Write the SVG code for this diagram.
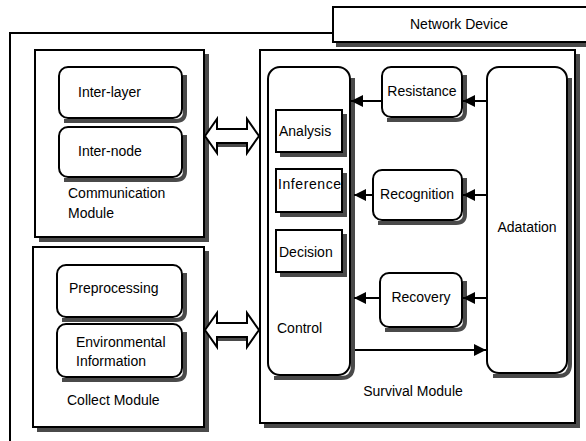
<svg xmlns="http://www.w3.org/2000/svg" width="586" height="441" viewBox="0 0 586 441">
<style>
.box{fill:#fff;stroke:#000;stroke-width:2}
.sh{fill:none;stroke:#4a4a4a;stroke-width:4}
.t{font-family:"Liberation Sans",Arial,sans-serif;font-size:14px;fill:#000}
.c{text-anchor:middle}
.ln{stroke:#000;stroke-width:2;fill:none}
</style>
<defs>
<marker id="ah" viewBox="0 0 10 10" refX="10" refY="5" markerWidth="6" markerHeight="6" orient="auto" markerUnits="strokeWidth">
<path d="M0,0 L10,5 L0,10 z" fill="#000"/>
</marker>
<path id="dbl" d="M0,0 L12,-17 L12,-7 L42,-7 L42,-17 L54,0 L42,17 L42,7 L12,7 L12,17 z"/>
</defs>
<rect width="586" height="441" fill="#fff"/>
<g id="outer">
<path class="ln" d="M10,441 L10,33 L334,33"/>
</g>
<g id="network-device">
<rect class="box" x="333" y="7" width="260" height="35"/>
<polyline class="sh" points="336,45 586,45"/>
<text class="t c" x="459" y="29">Network Device</text>
</g>
<g id="communication-module">
<rect class="box" x="35" y="50" width="169" height="187"/>
<polyline class="sh" points="207,54 207,240 39,240"/>
<text class="t" x="68" y="198">Communication</text>
<text class="t" x="68" y="218">Module</text>
</g>
<g id="inter-layer">
<rect class="box" x="59" y="67" width="123" height="51" rx="9"/>
<path class="sh" d="M185,75 V112 Q185,121 176,121 H64"/>
<text class="t" x="78" y="97">Inter-layer</text>
</g>
<g id="inter-node">
<rect class="box" x="59" y="127" width="123" height="50" rx="9"/>
<path class="sh" d="M185,135 V171 Q185,180 176,180 H64"/>
<text class="t" x="78" y="156">Inter-node</text>
</g>
<g id="collect-module">
<rect class="box" x="33" y="247" width="171" height="180"/>
<polyline class="sh" points="207,251 207,430 37,430"/>
<text class="t" x="67" y="405">Collect Module</text>
</g>
<g id="preprocessing">
<rect class="box" x="57" y="265" width="125" height="52" rx="9"/>
<path class="sh" d="M185,273 V311 Q185,320 176,320 H62"/>
<text class="t" x="69" y="293">Preprocessing</text>
</g>
<g id="environmental-information">
<rect class="box" x="57" y="324" width="125" height="53" rx="9"/>
<path class="sh" d="M185,332 V371 Q185,380 176,380 H62"/>
<text class="t" x="76" y="347">Environmental</text>
<text class="t" x="76" y="366">Information</text>
</g>
<g id="survival-module">
<rect class="box" x="260" y="50" width="315" height="373"/>
<polyline class="sh" points="578,54 578,426 264,426"/>
<text class="t c" x="413" y="396">Survival Module</text>
</g>
<g id="control">
<rect class="box" x="268" y="67" width="82" height="308" rx="12"/>
<path class="sh" d="M353,78 V366 Q353,378 341,378 H274"/>
<text class="t" x="277" y="333">Control</text>
</g>
<g id="analysis">
<rect class="box" x="276" y="110" width="66" height="42"/>
<polyline class="sh" points="345,114 345,155 280,155"/>
<text class="t" x="279" y="136">Analysis</text>
</g>
<g id="inference">
<rect class="box" x="276" y="169" width="66" height="43"/>
<polyline class="sh" points="345,173 345,215 280,215"/>
<text class="t" x="278" y="189" textLength="63">Inference</text>
</g>
<g id="decision">
<rect class="box" x="276" y="230" width="66" height="42"/>
<polyline class="sh" points="345,234 345,275 280,275"/>
<text class="t" x="279" y="257">Decision</text>
</g>
<g id="resistance">
<rect class="box" x="382" y="67" width="80" height="50" rx="9"/>
<path class="sh" d="M465,75 V111 Q465,120 456,120 H387"/>
<text class="t c" x="422" y="96">Resistance</text>
</g>
<g id="recognition">
<rect class="box" x="373" y="170" width="89" height="50" rx="9"/>
<path class="sh" d="M465,178 V214 Q465,223 456,223 H378"/>
<text class="t c" x="417" y="199">Recognition</text>
</g>
<g id="recovery">
<rect class="box" x="380" y="273" width="82" height="54" rx="9"/>
<path class="sh" d="M465,281 V321 Q465,330 456,330 H385"/>
<text class="t c" x="421" y="302">Recovery</text>
</g>
<g id="adatation">
<rect class="box" x="487" y="67" width="80" height="306" rx="12"/>
<path class="sh" d="M570,78 V364 Q570,376 558,376 H493"/>
<text class="t c" x="527" y="232">Adatation</text>
</g>
<g id="connectors">
<line class="ln" x1="487" y1="101" x2="463" y2="101" marker-end="url(#ah)"/>
<line class="ln" x1="382" y1="101" x2="351" y2="101" marker-end="url(#ah)"/>
<line class="ln" x1="487" y1="195" x2="463" y2="195" marker-end="url(#ah)"/>
<line class="ln" x1="373" y1="195" x2="354" y2="195" marker-end="url(#ah)"/>
<line class="ln" x1="487" y1="298" x2="463" y2="298" marker-end="url(#ah)"/>
<line class="ln" x1="380" y1="298" x2="354" y2="298" marker-end="url(#ah)"/>
<line class="ln" x1="355" y1="350" x2="486" y2="350" marker-end="url(#ah)"/>
<polyline class="sh" points="218,145 247,145"/>
<polyline class="sh" points="218,339 247,339"/>
<use href="#dbl" x="205" y="136" fill="#fff" stroke="#000" stroke-width="2"/>
<use href="#dbl" x="205" y="330" fill="#fff" stroke="#000" stroke-width="2"/>
</g>
</svg>
